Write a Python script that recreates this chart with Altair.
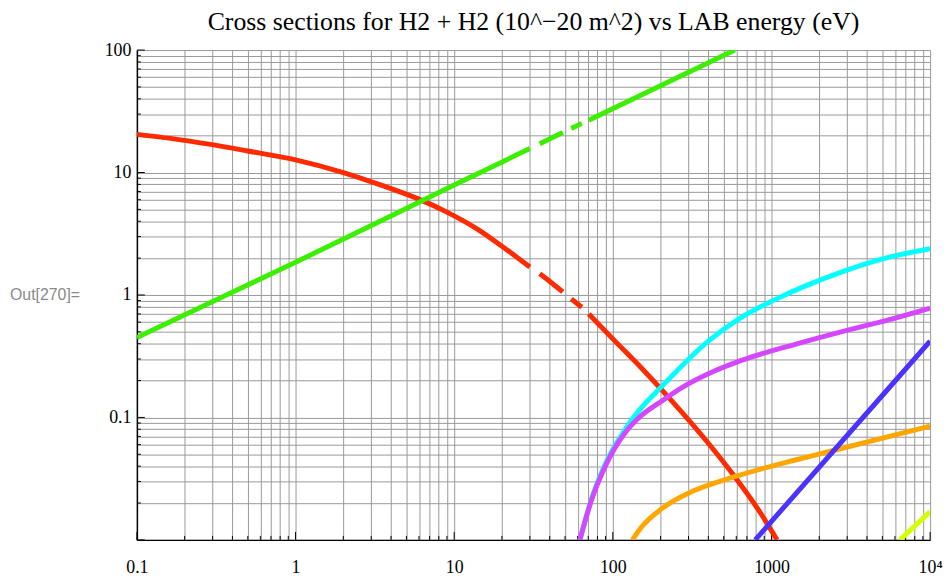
import altair as alt
import pandas as pd

# ---------------- data ----------------
# red: segments separated by the gaps in the curve
red_E = [[0.1, 0.2, 0.5, 1, 2, 3.5, 6.2, 9, 14, 20, 30],
         [34.6, 41, 48.4],
         [54.7, 63.7],
         [70.5, 100, 153, 236, 400, 587, 863, 1085]]
red_S = [[20.5, 18.3, 15.0, 12.7, 10.0, 7.85, 5.95, 4.75, 3.45, 2.5, 1.69],
         [1.49, 1.26, 1.06],
         [0.93, 0.794],
         [0.70, 0.438, 0.250, 0.136, 0.0616, 0.0328, 0.0162, 0.01]]

green_E = [[0.1, 1, 10, 30], [34.6, 48.4], [54.7, 63.7], [70.5, 587]]
green_S = [[0.45, 1.85, 7.9, 15.7], [17.2, 21.2], [22.9, 25.2], [26.7, 100]]

cyan_E = [[62, 72.9, 88.3, 120.5, 143, 205, 400, 631, 1045, 2730, 5080, 10000]]
cyan_S = [[0.01, 0.021, 0.040, 0.081, 0.110, 0.181, 0.42, 0.644, 0.912, 1.53, 1.98, 2.39]]

magenta_E = [[62, 72.9, 88.3, 120.5, 143, 205, 286, 400, 646, 1393, 3300, 5870, 10000]]
magenta_S = [[0.01, 0.0206, 0.0383, 0.076, 0.097, 0.137, 0.1815, 0.227, 0.292, 0.394,
              0.532, 0.641, 0.78]]

orange_E = [[133, 150, 205, 315, 587, 1393, 2250, 10000]]
orange_S = [[0.01, 0.0125, 0.0181, 0.0248, 0.0328, 0.0447, 0.0522, 0.085]]

blue_E = [[790, 6150, 10000]]
blue_S = [[0.01, 0.205, 0.42]]

yellow_E = [[6460, 10000]]
yellow_S = [[0.01, 0.017]]

series = [
    ("red", red_E, red_S, "#FF2A00"),
    ("green", green_E, green_S, "#3CEE00"),
    ("cyan", cyan_E, cyan_S, "#00FFFF"),
    ("magenta", magenta_E, magenta_S, "#D447FF"),
    ("orange", orange_E, orange_S, "#FFA600"),
    ("blue", blue_E, blue_S, "#4A33FF"),
    ("yellow", yellow_E, yellow_S, "#D6FF00"),
]

x_label_vals = [0.1, 1, 10, 100, 1000, 10000]
x_label_text = ["0.1", "1", "10", "100", "1000", "10\u2074"]
y_label_vals = [0.1, 1, 10, 100]
y_label_text = ["0.1", "1", "10", "100"]

x_decades = [0.1, 1, 10, 100, 1000]
y_decades = [0.01, 0.1, 1, 10]
multipliers = [1, 2, 3, 4, 5, 6, 7, 8, 9]

x_grid = [round(d * m, 6) for d in x_decades for m in multipliers] + [10000]
y_grid = [round(d * m, 6) for d in y_decades for m in multipliers] + [100]

title_text = "Cross sections for H2 + H2 (10^\u221220 m^2) vs LAB energy (eV)"

# ---------------- chart ----------------
def label_expr(vals, texts):
    expr = "''"
    for v, t in reversed(list(zip(vals, texts))):
        expr = f"datum.value == {v} ? '{t}' : ({expr})"
    return expr

W, H = 800, 494
SERIF = "Liberation Serif"

X = alt.X("E:Q", title=None,
          scale=alt.Scale(type="log", domain=[0.1, 10000], nice=False),
          axis=alt.Axis(values=x_grid, labelExpr=label_expr(x_label_vals, x_label_text),
                        grid=True, gridColor="#999999", gridWidth=1,
                        ticks=False, domainColor="black", domainWidth=1.5,
                        labelFont=SERIF, labelFontSize=18, labelColor="black",
                        labelPadding=19, labelOverlap=False, labelBound=False,
                        labelFlush=False))
Y = alt.Y("sigma:Q", title=None,
          scale=alt.Scale(type="log", domain=[0.01, 100], nice=False),
          axis=alt.Axis(values=y_grid, labelExpr=label_expr(y_label_vals, y_label_text),
                        grid=True, gridColor="#999999", gridWidth=1,
                        ticks=False, domainColor="black", domainWidth=1.5,
                        labelFont=SERIF, labelFontSize=18, labelColor="black",
                        labelPadding=6, labelOverlap=False, labelBound=False,
                        labelFlush=False))

layers = []
for name, Es, Ss, col in series:
    rows = []
    for i, (e_list, s_list) in enumerate(zip(Es, Ss)):
        for e, s in zip(e_list, s_list):
            rows.append({"E": e, "sigma": s, "seg": f"{name}{i}"})
    df = pd.DataFrame(rows)
    layers.append(
        alt.Chart(df).mark_line(color=col, strokeWidth=5, interpolate="monotone",
                                clip=True, strokeCap="butt")
        .encode(x=X, y=Y, detail="seg:N")
    )

# inward tick marks on the left and bottom axes
y_major = pd.DataFrame({"sigma": y_label_vals + [0.01]})
y_minor = pd.DataFrame({"sigma": [v for v in y_grid if v not in y_label_vals + [0.01]]})
x_major = pd.DataFrame({"E": x_label_vals})
x_minor = pd.DataFrame({"E": [v for v in x_grid if v not in x_label_vals]})

ticks = [
    alt.Chart(y_major).mark_rule(color="black", strokeWidth=1).encode(y=Y, x=alt.value(0), x2=alt.value(8)),
    alt.Chart(y_minor).mark_rule(color="black", strokeWidth=1).encode(y=Y, x=alt.value(0), x2=alt.value(4)),
    alt.Chart(x_major).mark_rule(color="black", strokeWidth=1).encode(x=X, y=alt.value(H), y2=alt.value(H - 8)),
    alt.Chart(x_minor).mark_rule(color="black", strokeWidth=1).encode(x=X, y=alt.value(H), y2=alt.value(H - 4)),
]

out_label = alt.Chart(pd.DataFrame({"t": ["Out[270]="]})).mark_text(
    align="left", baseline="middle", font="Liberation Sans", fontSize=16, color="#8a8a8a"
).encode(text="t:N", x=alt.value(-128), y=alt.value(247))

chart = alt.layer(*ticks, *layers, out_label).properties(
    width=W, height=H,
    title=alt.TitleParams(title_text, font=SERIF, fontSize=26, fontWeight="normal",
                          color="black", anchor="middle", offset=6),
    autosize=alt.AutoSizeParams(type="none"),
    padding={"left": 130, "top": 40, "right": 13, "bottom": 35},
).configure_view(stroke=None)

chart.save("out.html", embed_options={"renderer": "svg", "actions": False})
